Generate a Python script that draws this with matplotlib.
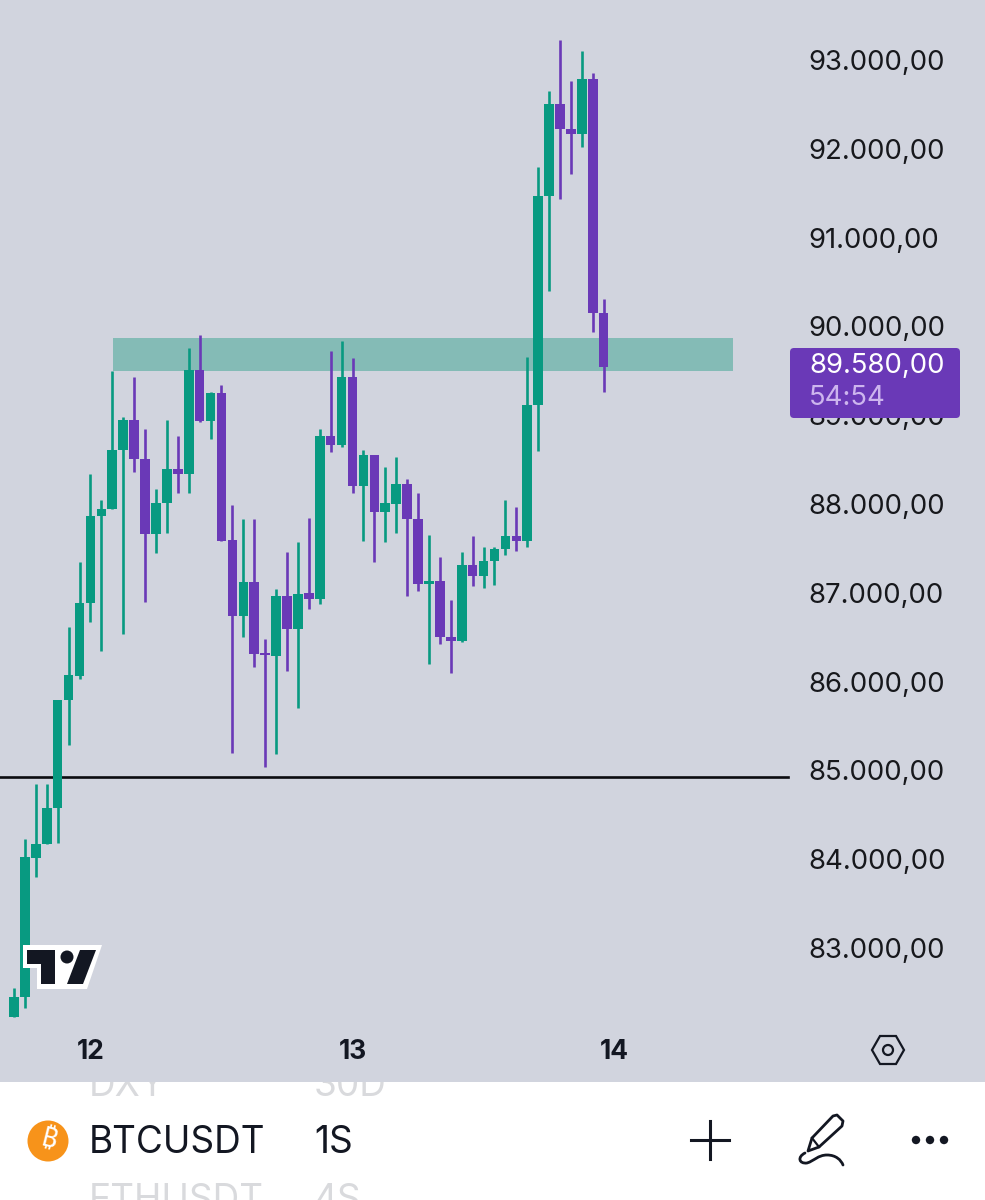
import matplotlib
matplotlib.use("Agg")
import matplotlib.pyplot as plt
from matplotlib.patches import Rectangle, Polygon, Circle, FancyBboxPatch, PathPatch
from matplotlib.path import Path
import numpy as np

FONT = ["Inter", "DejaVu Sans"]
plt.rcParams["font.family"] = FONT

opens = [82224,82449,84014,84172,84577,85793,86064,86886,87865,87944,88609,88946,88507,87663,88012,88395,88338,89509,88935,89250,87595,86739,87122,86323,86289,86964,86593,86998,86931,88766,88665,89431,88203,88552,87910,88000,88226,87832,87100,87133,86503,86458,87314,87190,87359,87494,87640,87584,89115,91469,92505,92223,92167,92786,90151]
highs = [82550,84228,84847,84847,85793,86615,87347,88338,88045,89498,88980,89431,88845,88169,88946,88766,89757,89904,89262,89341,87989,87832,87832,86480,87043,87460,87573,87843,88845,89723,89836,89645,88609,88552,88417,88530,88282,88124,87651,87404,86919,87460,87640,87516,87516,88045,87967,89656,91795,92651,93226,92764,93102,92854,90309]
lows = [82224,82325,83800,84172,84183,85287,86030,86672,86345,87944,86537,88361,86897,87449,87674,88124,88124,88924,88732,87584,85196,86503,86165,85039,85185,86120,85703,86818,86874,88586,88642,88124,87584,87347,87573,87674,86964,87021,86199,86424,86097,86447,87077,87055,87088,87426,87471,87516,88597,90399,91435,91717,92021,89937,89262]
closes = [82449,84025,84172,84577,85793,86075,86886,87865,87944,88609,88946,88507,87663,88012,88395,88338,89509,88935,89250,87584,86739,87122,86311,86300,86964,86593,86987,86931,88766,88665,89431,88203,88552,87910,88012,88226,87832,87100,87133,86503,86458,87314,87190,87359,87494,87640,87584,89115,91469,92505,92223,92167,92786,90151,89543]

price_ticks = [83000,84000,85000,86000,87000,88000,89000,90000,91000,92000,93000]
price_labels = ["83.000,00","84.000,00","85.000,00","86.000,00","87.000,00","88.000,00","89.000,00","90.000,00","91.000,00","92.000,00","93.000,00"]
day_ticks = [7, 31, 55]
day_labels = ["12", "13", "14"]
zone_low, zone_high = 89498, 89870
zone_start, zone_end = 9.07, 65.8
level = 84926
last_price = "89.580,00"
countdown = "54:54"

BG = "#D1D4DE"; UP = "#089A81"; DOWN = "#6A39B7"; INK = "#131722"; ZONE = "#84BBB6"

W, H = 985, 1200
fig = plt.figure(figsize=(W/100, H/100), dpi=100, facecolor="white")

# UI layer underneath chart: list rows scrolled behind the bar
under = fig.add_axes([0, 0, 1, 1], zorder=0)
under.set_xlim(0, W); under.set_ylim(H, 0); under.axis("off")
for x, s in [(89, "DXY"), (314, "30D")]:
    under.text(x, 1086, s, fontsize=26.6, color="#D9DADD", ha="left", va="center")
for x, s in [(89, "ETHUSDT"), (314, "4S")]:
    under.text(x, 1201, s, fontsize=26.6, color="#D9DADD", ha="left", va="center", clip_on=True)

# Chart
ax = fig.add_axes([0, 1 - 1082/H, 1, 1082/H], zorder=1)
ax.set_facecolor(BG)
for s in ax.spines.values():
    s.set_visible(False)
ax.set_xlim(-14/10.92, (W-14)/10.92)
ax.set_ylim(81492, 93676)

ax.add_patch(Rectangle((zone_start, zone_low), zone_end-zone_start, zone_high-zone_low, color=ZONE, lw=0, zorder=1.2))
ax.axhline(level, xmin=0, xmax=788/W, color="#0B0B10", lw=1.9, zorder=1.3, solid_capstyle="projecting")

idx = np.arange(len(opens))
o, h, l, c = map(np.array, (opens, highs, lows, closes))
cols = [UP if b >= a else DOWN for a, b in zip(o, c)]
ax.vlines(idx, l, h, colors=cols, lw=1.9, zorder=3)
ax.bar(idx, np.abs(c-o), bottom=np.minimum(o, c), width=0.88, color=cols, lw=0, zorder=3)

ax.yaxis.tick_right()
ax.set_yticks(price_ticks, price_labels, fontsize=19.8, color="#17181C", ha="left")
ax.tick_params(axis="y", length=0, pad=-127.4)
ax.set_xticks(day_ticks, day_labels, fontsize=19, fontweight="bold", color=INK)
ax.tick_params(axis="x", length=0, pad=-31)

# Top layer: badge, logo and toolbar icons, in pixels
ui = fig.add_axes([0, 0, 1, 1], zorder=2)
ui.set_xlim(0, W); ui.set_ylim(H, 0); ui.axis("off"); ui.patch.set_alpha(0)

ui.add_patch(FancyBboxPatch((790, 348), 170, 70, boxstyle="round,pad=0,rounding_size=4", fc="#6A39B7", ec="none"))
ui.text(809, 366, last_price, fontsize=19.8, color="white", va="center", ha="left")
ui.text(809, 398, countdown, fontsize=19.8, color="#CDB5EE", va="center", ha="left")

ui.add_patch(Polygon([(23,945),(102,945),(87,989),(37,989),(37,968),(23,968)], fc="white", ec="none"))
ui.add_patch(Polygon([(27,950),(55,950),(55,984),(41,984),(41,964),(27,964)], fc=INK, ec="none"))
ui.add_patch(Circle((67,957), 6.5, fc=INK, ec="none"))
ui.add_patch(Polygon([(80,950),(96,950),(83,984),(67,984)], fc=INK, ec="none"))

ui.add_patch(Polygon([(872,1050),(880,1036),(896,1036),(904,1050),(896,1064),(880,1064)], fc="none", ec=INK, lw=1.6))
ui.add_patch(Circle((888,1050), 5, fc="none", ec=INK, lw=1.6))

ui.add_patch(Circle((48,1141), 20.5, fc="#F7931A", ec="none"))
ui.text(48, 1141, "₿", fontsize=20, color="white", ha="center", va="center", rotation=-14, fontweight="bold",
        family=["Noto Sans", "Roboto", "Open Sans", "Lato", "Liberation Sans", "Noto Sans CJK SC", "DejaVu Sans"])
ui.text(89, 1143, "BTCUSDT", fontsize=26.6, color=INK, ha="left", va="center")
ui.text(314, 1143, "1S", fontsize=26.6, color=INK, ha="left", va="center")

ui.plot([691,729],[1140,1140], color=INK, lw=2.2)
ui.plot([710,710],[1121,1159], color=INK, lw=2.2)
ui.add_patch(Polygon([(812,1138),(833,1116),(837,1115),(843,1121),(842,1126),(819,1147),(808,1151)], fc="none", ec=INK, lw=2, joinstyle="round"))
ui.plot([812,819],[1138,1147], color=INK, lw=1.6)
squiggle = Path([(805,1153),(797,1157),(799,1164),(807,1163),(814,1161),(818,1155),(827,1155),(836,1155),(841,1160),(843,1165)],
                [Path.MOVETO, Path.CURVE4, Path.CURVE4, Path.CURVE4, Path.CURVE4, Path.CURVE4, Path.CURVE4, Path.CURVE4, Path.CURVE4, Path.CURVE4])
ui.add_patch(PathPatch(squiggle, fc="none", ec=INK, lw=2, capstyle="round"))
for x in (916, 930, 944):
    ui.add_patch(Circle((x,1140), 4.2, fc=INK, ec="none"))

fig.savefig("out.png", dpi=100, facecolor="white")
